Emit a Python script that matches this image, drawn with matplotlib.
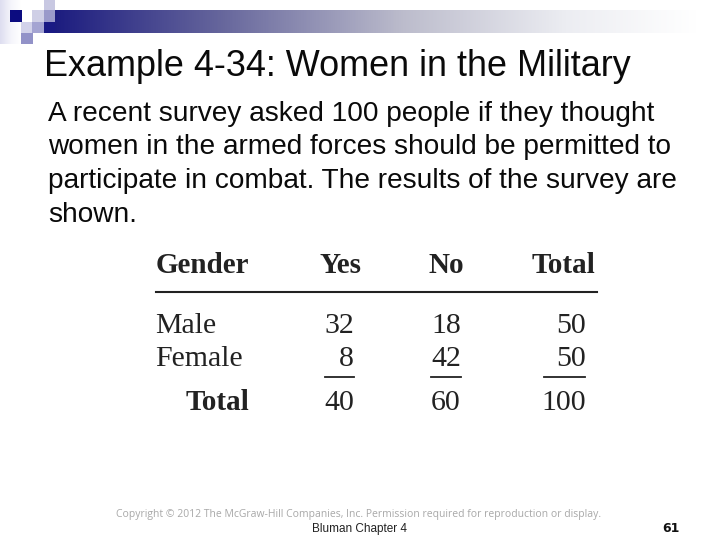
import numpy as np
import matplotlib
matplotlib.use("Agg")
import matplotlib.pyplot as plt
from matplotlib.patches import Rectangle
from matplotlib.colors import LinearSegmentedColormap

title = "Example 4-34: Women in the Military"
body_lines = ["A recent survey asked 100 people if they thought",
              "women in the armed forces should be permitted to",
              "participate in combat. The results of the survey are",
              "shown."]
headers = ["Gender", "Yes", "No", "Total"]
row_labels = ["Male", "Female", "Total"]
yes_values = [32, 8, 40]
no_values = [18, 42, 60]
total_values = [50, 50, 100]
copyright_text = "Copyright © 2012 The McGraw-Hill Companies, Inc. Permission required for reproduction or display."
footer = "Bluman Chapter 4"
page = "61"

fig = plt.figure(figsize=(7.2, 5.4), dpi=100)
ax = fig.add_axes([0, 0, 1, 1])
ax.set_xlim(0, 720)
ax.set_ylim(540, 0)
ax.axis("off")

cmap = LinearSegmentedColormap.from_list(
    "g", [(0, "#18187e"), (0.27, "#66669c"), (0.55, "#bcbccc"), (0.8, "#ecedf2"), (1, "#ffffff")])
ax.imshow(np.linspace(0, 1, 256)[None, :], extent=(44, 697, 33, 10), cmap=cmap, aspect="auto", zorder=1)
ax.set_xlim(0, 720)
ax.set_ylim(540, 0)

# light fading strip at the left of the ornament
strip = LinearSegmentedColormap.from_list("s", ["#dedef0", "#f4f4fb", "#ffffff"])
ax.imshow(np.linspace(0, 1, 32)[None, :], extent=(0, 21, 44, 0), cmap=strip, aspect="auto", zorder=1)
ax.set_xlim(0, 720)
ax.set_ylim(540, 0)

for (x, y, w, h, c) in [(10, 10, 12, 12, "#0c0c80"), (22, 10, 10, 12, "#ffffff"),
                        (32, 10, 12, 12, "#cfcfe6"), (44, 0, 11, 10, "#c8c8e2"),
                        (44, 10, 11, 12, "#9a9aca"), (44, 22, 11, 11, "#1a1a84"),
                        (21, 22, 11, 11, "#d2d2ea"), (32, 22, 12, 11, "#a4a4d2"),
                        (21, 33, 12, 11, "#9292c8")]:
    ax.add_patch(Rectangle((x, y), w, h, fc=c, ec="none", zorder=2))

sans = "Liberation Sans"
serif = "Liberation Serif"
ax.text(44, 76, title, family=sans, fontsize=25.9, color="#0a0a0a", va="baseline", ha="left")
for y, line in zip([121, 154, 188, 222], body_lines):
    ax.text(48, y, line, family=sans, fontsize=20.2, color="#0a0a0a", va="baseline", ha="left")

ink = "#222222"
hy = 273
ax.text(156, hy, headers[0], family=serif, weight="bold", fontsize=21, color=ink, va="baseline", ha="left")
ax.text(340, hy, headers[1], family=serif, weight="bold", fontsize=21, color=ink, va="baseline", ha="center")
ax.text(446, hy, headers[2], family=serif, weight="bold", fontsize=21, color=ink, va="baseline", ha="center")
ax.text(595, hy, headers[3], family=serif, weight="bold", fontsize=21, color=ink, va="baseline", ha="right")
ax.plot([156, 597], [292, 292], color=ink, lw=1.5)

ys = [333, 366, 410]
for i, y in enumerate(ys):
    is_total = i == 2
    ax.text(186 if is_total else 155, y, row_labels[i], family=serif, weight="bold" if is_total else "normal",
            fontsize=21 if is_total else 21.5, color=ink, va="baseline", ha="left")
    ax.text(354, y, str(yes_values[i]), family=serif, fontsize=21.5, color=ink, va="baseline", ha="right")
    ax.text(461, y, str(no_values[i]), family=serif, fontsize=21.5, color=ink, va="baseline", ha="right")
    ax.text(586, y, str(total_values[i]), family=serif, fontsize=21.5, color=ink, va="baseline", ha="right")
for x0, x1 in [(325, 354), (431, 461), (544, 585)]:
    ax.plot([x0, x1], [377, 377], color=ink, lw=1.3)

ax.text(116, 514, copyright_text, family="Open Sans", fontsize=7.5, color="#a8a8a8", va="center", ha="left")
ax.text(312, 529, footer, family=sans, fontsize=8.5, color="#222222", va="center", ha="left")
ax.text(671, 528, page, family="DejaVu Sans", weight="bold", fontsize=9, color="#111111", va="center", ha="center")

fig.savefig("out.png", dpi=100)
